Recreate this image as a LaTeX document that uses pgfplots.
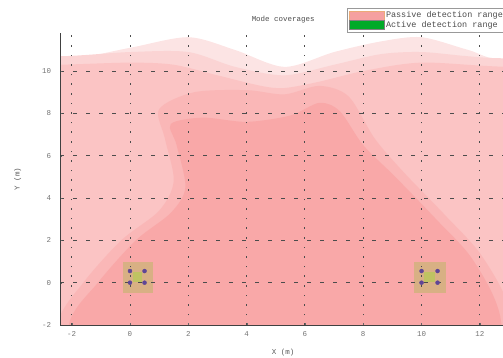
\documentclass[border=0pt]{standalone}
\usepackage{fontspec}
\setmainfont{Liberation Mono}
\usepackage{pgfplots}
\pgfplotsset{compat=1.18}
\definecolor{c1}{RGB}{252,228,228}
\definecolor{c2}{RGB}{251,212,212}
\definecolor{c3}{RGB}{251,196,196}
\definecolor{c4}{RGB}{250,183,183}
\definecolor{c5}{RGB}{249,168,168}
\definecolor{tan}{RGB}{205,180,120}
\definecolor{ctr}{RGB}{185,200,90}
\definecolor{dotc}{RGB}{95,70,150}
\definecolor{lgpk}{RGB}{245,160,160}
\definecolor{lgbd}{RGB}{235,170,120}
\definecolor{lggr}{RGB}{0,170,40}
\begin{document}
\fontsize{8}{9}\selectfont
\begin{tikzpicture}
\useasboundingbox (0,0) rectangle (503bp,358bp);
\begin{axis}[
  at={(60bp,33bp)}, anchor=south west,
  scale only axis, width=449bp, height=292bp,
  xmin=-2.4, xmax=13, ymin=-2, ymax=11.8,
  axis x line*=bottom, axis y line*=left,
  axis line style={-, black!75, line width=0.9pt},
  axis on top,
  xtick={-2,0,...,12}, ytick={-2,0,...,10},
  major tick length=2bp,
  tick style={black!60},
  grid=major,
  x grid style={dash pattern=on 1.6bp off 8bp, black!70, line width=0.9bp},
  y grid style={dash pattern=on 4bp off 9bp, black!70, line width=0.9bp},
  /pgf/number format/assume math mode=true,
  tick label style={font=\fontsize{7.5}{8}\selectfont, text=black!55},
  xticklabel style={yshift=-4bp},
  yticklabel style={xshift=-6bp},
  xlabel={X (m)}, ylabel={Y (m)},
  label style={font=\fontsize{7.5}{8}\selectfont, text=black!65},
  xlabel style={at={(axis description cs:0.497,-0.096)}, anchor=center},
  ylabel style={at={(axis description cs:-0.094,0.5)}, anchor=center},
  title={Mode coverages},
  title style={at={(axis description cs:0.497,1.027)}, anchor=center, font=\fontsize{7.5}{8}\selectfont, text=black!70},
  legend style={at={(axis description cs:0.639,1.086)}, anchor=north west,
    draw=black!40, fill=white, font=\fontsize{8.5}{9}\selectfont, text=black!70,
    inner sep=1.5pt, row sep=-2pt, legend cell align=left},
  legend image code/.code={\draw[#1] (0bp,-4.5bp) rectangle (35bp,4.5bp);},
]
% top fringe
\addplot[fill=c1, draw=none, smooth, forget plot] coordinates {
 (-6,-6) (-6,10.4) (-2.4,10.5) (0,11.1) (2,11.6) (3.6,11.0) (5.3,10.2) (7,10.9) (8.6,11.4) (10,11.6) (11.6,11.0) (13,10.5) (18,10.4) (18,-6)};
\addplot[fill=c2, draw=none, smooth, forget plot] coordinates {
 (-6,-6) (-6,10.7) (-2.4,10.7) (0,10.9) (2,10.9) (3.6,10.2) (5.3,9.8) (7,10.3) (8.6,10.8) (10,10.9) (11.6,10.7) (13,10.6) (18,10.6) (18,-6)};
% medium-light base
\addplot[fill=c3, draw=none, smooth, forget plot] coordinates {
 (-6,-6) (-6,10.2) (-2.4,10.3) (0,10.4) (1.5,10.3) (3,9.8) (4.5,9.3) (5.3,9.2) (6.5,9.5) (8,10.0) (10,10.4) (13,10.2) (18,10.2) (18,-6)};
% intermediate
\addplot[fill=c4, draw=none, smooth, forget plot] coordinates {
 (-2.6,-6) (-2.5,-2) (-1.6,0) (-0.3,2) (1.0,3.4) (1.5,4.8) (1.2,6.8) (1.0,8.2) (2.2,9.0) (4,9.1) (5.3,8.9) (6.5,9.3) (7.5,8.8) (8.4,6.8) (9.4,5.2) (10.8,3.2) (12.1,1.2) (13.1,-1.6) (13.2,-6)};
% darkest core
\addplot[fill=c5, draw=none, smooth, forget plot] coordinates {
 (-2.1,-6) (-2.1,-2) (-1.1,0) (0.2,2) (1.4,3.3) (1.9,4.5) (1.6,6.5) (1.4,7.5) (2.5,7.8) (4,7.6) (5.5,7.9) (6.5,8.5) (7.2,8.1) (8,6.5) (9.1,5) (10.5,3) (11.75,1.1) (12.7,-1.6) (12.8,-6)};
% sensor patches
\addplot[fill=tan, fill opacity=0.75, draw=none, forget plot] coordinates {(-0.25,-0.5) (0.8,-0.5) (0.8,1.0) (-0.25,1.0)};
\addplot[fill=tan, fill opacity=0.75, draw=none, forget plot] coordinates {(9.75,-0.5) (10.85,-0.5) (10.85,1.0) (9.75,1.0)};
\addplot[fill=ctr, fill opacity=0.8, draw=none, forget plot] coordinates {(0.1,0.05) (0.42,0.05) (0.42,0.5) (0.1,0.5)};
\addplot[fill=ctr, fill opacity=0.8, draw=none, forget plot] coordinates {(10.1,0.05) (10.45,0.05) (10.45,0.5) (10.1,0.5)};
\addplot[only marks, mark=*, mark size=2bp, color=dotc, forget plot] coordinates {
 (0,0) (0.5,0) (0,0.55) (0.5,0.55) (10,0) (10.55,0) (10,0.55) (10.55,0.55)};
\addlegendimage{fill=lgpk, draw=lgbd}
\addlegendentry{Passive detection range}
\addlegendimage{fill=lggr, draw=black!50}
\addlegendentry{Active detection range}
\node[anchor=south west, inner sep=0pt, text=black!60, font=\fontsize{6.5}{7}\selectfont] at (axis description cs:-0.01,1.03) {x 10$^{4}$};
\end{axis}
\end{tikzpicture}
\end{document}
